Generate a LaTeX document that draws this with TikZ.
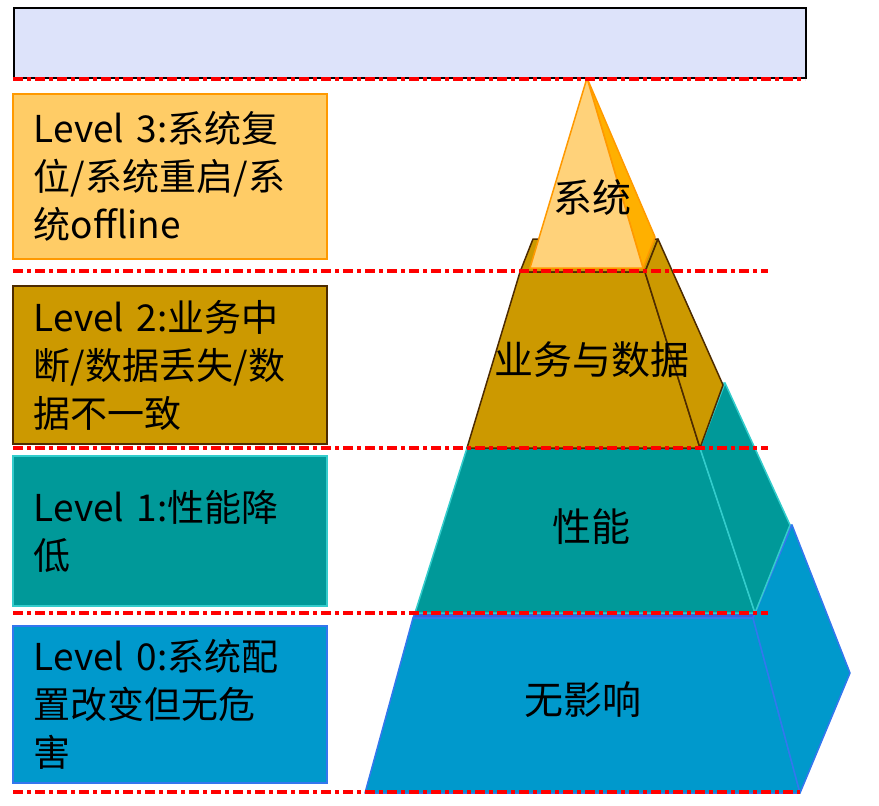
\documentclass[tikz,border=0pt]{standalone}
\usepackage{fontspec}
\setmainfont{Noto Sans CJK SC}
\definecolor{barfill}{HTML}{DDE3FA}
\definecolor{cthree}{HTML}{FFCC66}
\definecolor{cthreefront}{HTML}{FFD27A}
\definecolor{cthreeside}{HTML}{FFB000}
\definecolor{cthreeedge}{HTML}{FF9900}
\definecolor{ctwo}{HTML}{CC9900}
\definecolor{ctwoedge}{HTML}{4D2B00}
\definecolor{cone}{HTML}{009999}
\definecolor{coneedge}{HTML}{33CCCC}
\definecolor{czero}{HTML}{0099CC}
\definecolor{czeroedge}{HTML}{3377EE}
\definecolor{czerotop}{HTML}{3366DD}
\definecolor{redline}{HTML}{FF0000}
\begin{document}
\begin{tikzpicture}[x=1pt,y=-1pt,
  lvlbox/.style={draw, line width=2pt, minimum width=314pt, text width=272pt,
    inner xsep=21pt, inner ysep=0pt, align=left, anchor=north west,
    font=\fontsize{37}{48}\selectfont},
  plabel/.style={font=\fontsize{39}{46}\selectfont, inner sep=0pt},
  sepline/.style={draw=redline, line width=3.5pt, dash pattern=on 10pt off 4pt on 4pt off 4pt},
  face/.style={line width=1.5pt, line join=round}]
\useasboundingbox (0,0) rectangle (879,806);

% top bar
\node[draw=black, line width=1.5pt, fill=barfill, minimum width=792pt, minimum height=70pt,
  anchor=north west, inner sep=0pt] (bar) at (13,7) {};

% level boxes
\node[lvlbox, fill=cthree, draw=cthreeedge, minimum height=165pt] (b3) at (12,93)
  {Level 3:系统复\\位/系统重启/系\\统offline};
\node[lvlbox, fill=ctwo, draw=ctwoedge, minimum height=158pt] (b2) at (12,285)
  {Level 2:业务中\\断/数据丢失/数\\据不一致};
\node[lvlbox, fill=cone, draw=coneedge, minimum height=150pt] (b1) at (12,455)
  {Level 1:性能降\\低};
\node[lvlbox, fill=czero, draw=czeroedge, minimum height=157pt] (b0) at (12,625)
  {Level 0:系统配\\置改变但无危\\害};

% pyramid: level 0 (blue)
\filldraw[face, fill=czerotop, draw=czeroedge] (413,618) -- (452,525) -- (792,525) -- (753,618) -- cycle;
\filldraw[face, fill=czero, draw=czeroedge] (413,618) -- (753,618) -- (800,793) -- (365,793) -- cycle;
\filldraw[face, fill=czero, draw=czeroedge] (753,618) -- (792,525) -- (850,673) -- (800,793) -- cycle;
% level 1 (teal)
\filldraw[face, fill=cone, draw=coneedge] (467,448) -- (492,383) -- (725,383) -- (700,448) -- cycle;
\filldraw[face, fill=cone, draw=coneedge] (467,448) -- (700,448) -- (755,613) -- (415,613) -- cycle;
\filldraw[face, fill=cone, draw=coneedge] (700,448) -- (725,383) -- (790,525) -- (755,613) -- cycle;
% level 2 (gold)
\filldraw[face, fill=ctwo, draw=ctwoedge] (520,272) -- (533,239) -- (658,239) -- (645,272) -- cycle;
\filldraw[face, fill=ctwo, draw=ctwoedge] (520,272) -- (645,272) -- (700,448) -- (467,448) -- cycle;
\filldraw[face, fill=ctwo, draw=ctwoedge] (645,272) -- (658,239) -- (723,385) -- (700,448) -- cycle;
% level 3 (orange)
\filldraw[face, fill=cthreeside, draw=cthreeedge] (587,78) -- (655,237) -- (643,268) -- cycle;
\filldraw[face, fill=cthreefront, draw=cthreeedge] (587,78) -- (643,268) -- (530,268) -- cycle;

% pyramid labels
\node[plabel] (p3) at (592,198) {系统};
\node[plabel] (p2) at (592,360) {业务与数据};
\node[plabel] (p1) at (591,527) {性能};
\node[plabel] (p0) at (583,700) {无影响};

% separator lines
\coordinate (s0a) at (13,79);  \coordinate (s0b) at (805,79);
\coordinate (s1a) at (13,271); \coordinate (s1b) at (768,271);
\coordinate (s2a) at (13,448); \coordinate (s2b) at (768,448);
\coordinate (s3a) at (13,613); \coordinate (s3b) at (768,613);
\coordinate (s4a) at (13,792); \coordinate (s4b) at (800,792);
\draw[sepline] (s0a) -- (s0b);
\draw[sepline] (s1a) -- (s1b);
\draw[sepline] (s2a) -- (s2b);
\draw[sepline] (s3a) -- (s3b);
\draw[sepline] (s4a) -- (s4b);
\end{tikzpicture}
\end{document}
